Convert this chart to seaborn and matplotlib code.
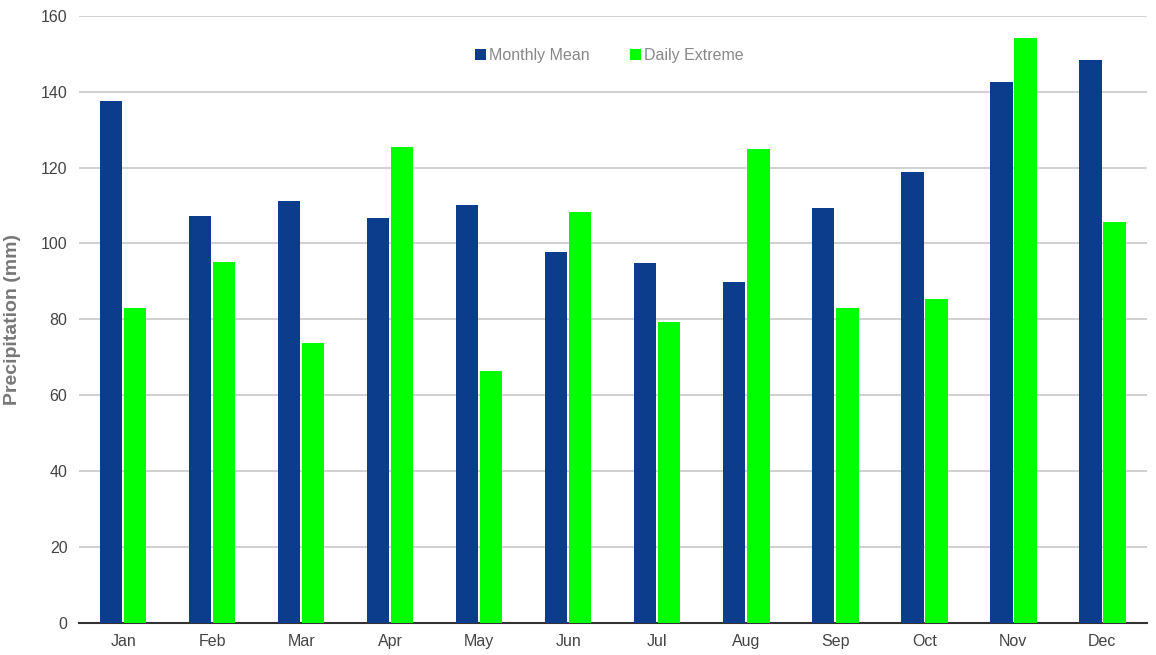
import pandas as pd
import seaborn as sns
import matplotlib.pyplot as plt

months = ["Jan", "Feb", "Mar", "Apr", "May", "Jun", "Jul", "Aug", "Sep", "Oct", "Nov", "Dec"]
monthly_mean = [137.6, 107.3, 111.2, 106.7, 110.2, 97.8, 94.9, 89.9, 109.4, 118.9, 142.6, 148.4]
daily_extreme = [83.0, 95.2, 73.8, 125.5, 66.4, 108.3, 79.3, 124.9, 83.0, 85.4, 154.2, 105.7]

df = pd.DataFrame({
    "month": months * 2,
    "value": monthly_mean + daily_extreme,
    "series": ["Monthly Mean"] * 12 + ["Daily Extreme"] * 12,
})

sns.set_style("white")
plt.rcParams['font.family'] = ['Liberation Sans', 'DejaVu Sans']

fig = plt.figure(figsize=(11.56, 6.55), dpi=100)
ax = fig.add_axes([0.068, 0.049, 0.924, 0.927])

sns.barplot(data=df, x="month", y="value", hue="series",
            palette={"Monthly Mean": "#0b3d8c", "Daily Extreme": "#00ff00"},
            width=0.54, gap=0.06, saturation=1, linewidth=0, ax=ax, zorder=3)

ax.set_ylim(0, 160)
ax.set_xlim(-0.5, 11.5)
ax.set_yticks(range(0, 161, 20))
ax.yaxis.grid(True, color="#c8c8c8", linewidth=1.2, zorder=0)
ax.set_axisbelow(True)
for s in ["top", "right", "left"]:
    ax.spines[s].set_visible(False)
ax.spines["bottom"].set_color("#333333")
ax.spines["bottom"].set_linewidth(1.5)
ax.tick_params(axis="both", length=0, labelsize=11.5, labelcolor="#444444", pad=8)
ax.set_xlabel("")
ax.set_ylabel("Precipitation (mm)", fontsize=14, fontweight="bold", color="#777777", labelpad=14)

leg = ax.legend(loc="upper center", bbox_to_anchor=(0.497, 0.97), ncol=2, frameon=False,
                fontsize=11.5, handlelength=0.7, handleheight=0.7, handletextpad=0.2,
                columnspacing=2.5)
for t in leg.get_texts():
    t.set_color("#888888")

fig.savefig("out.png", dpi=100)
